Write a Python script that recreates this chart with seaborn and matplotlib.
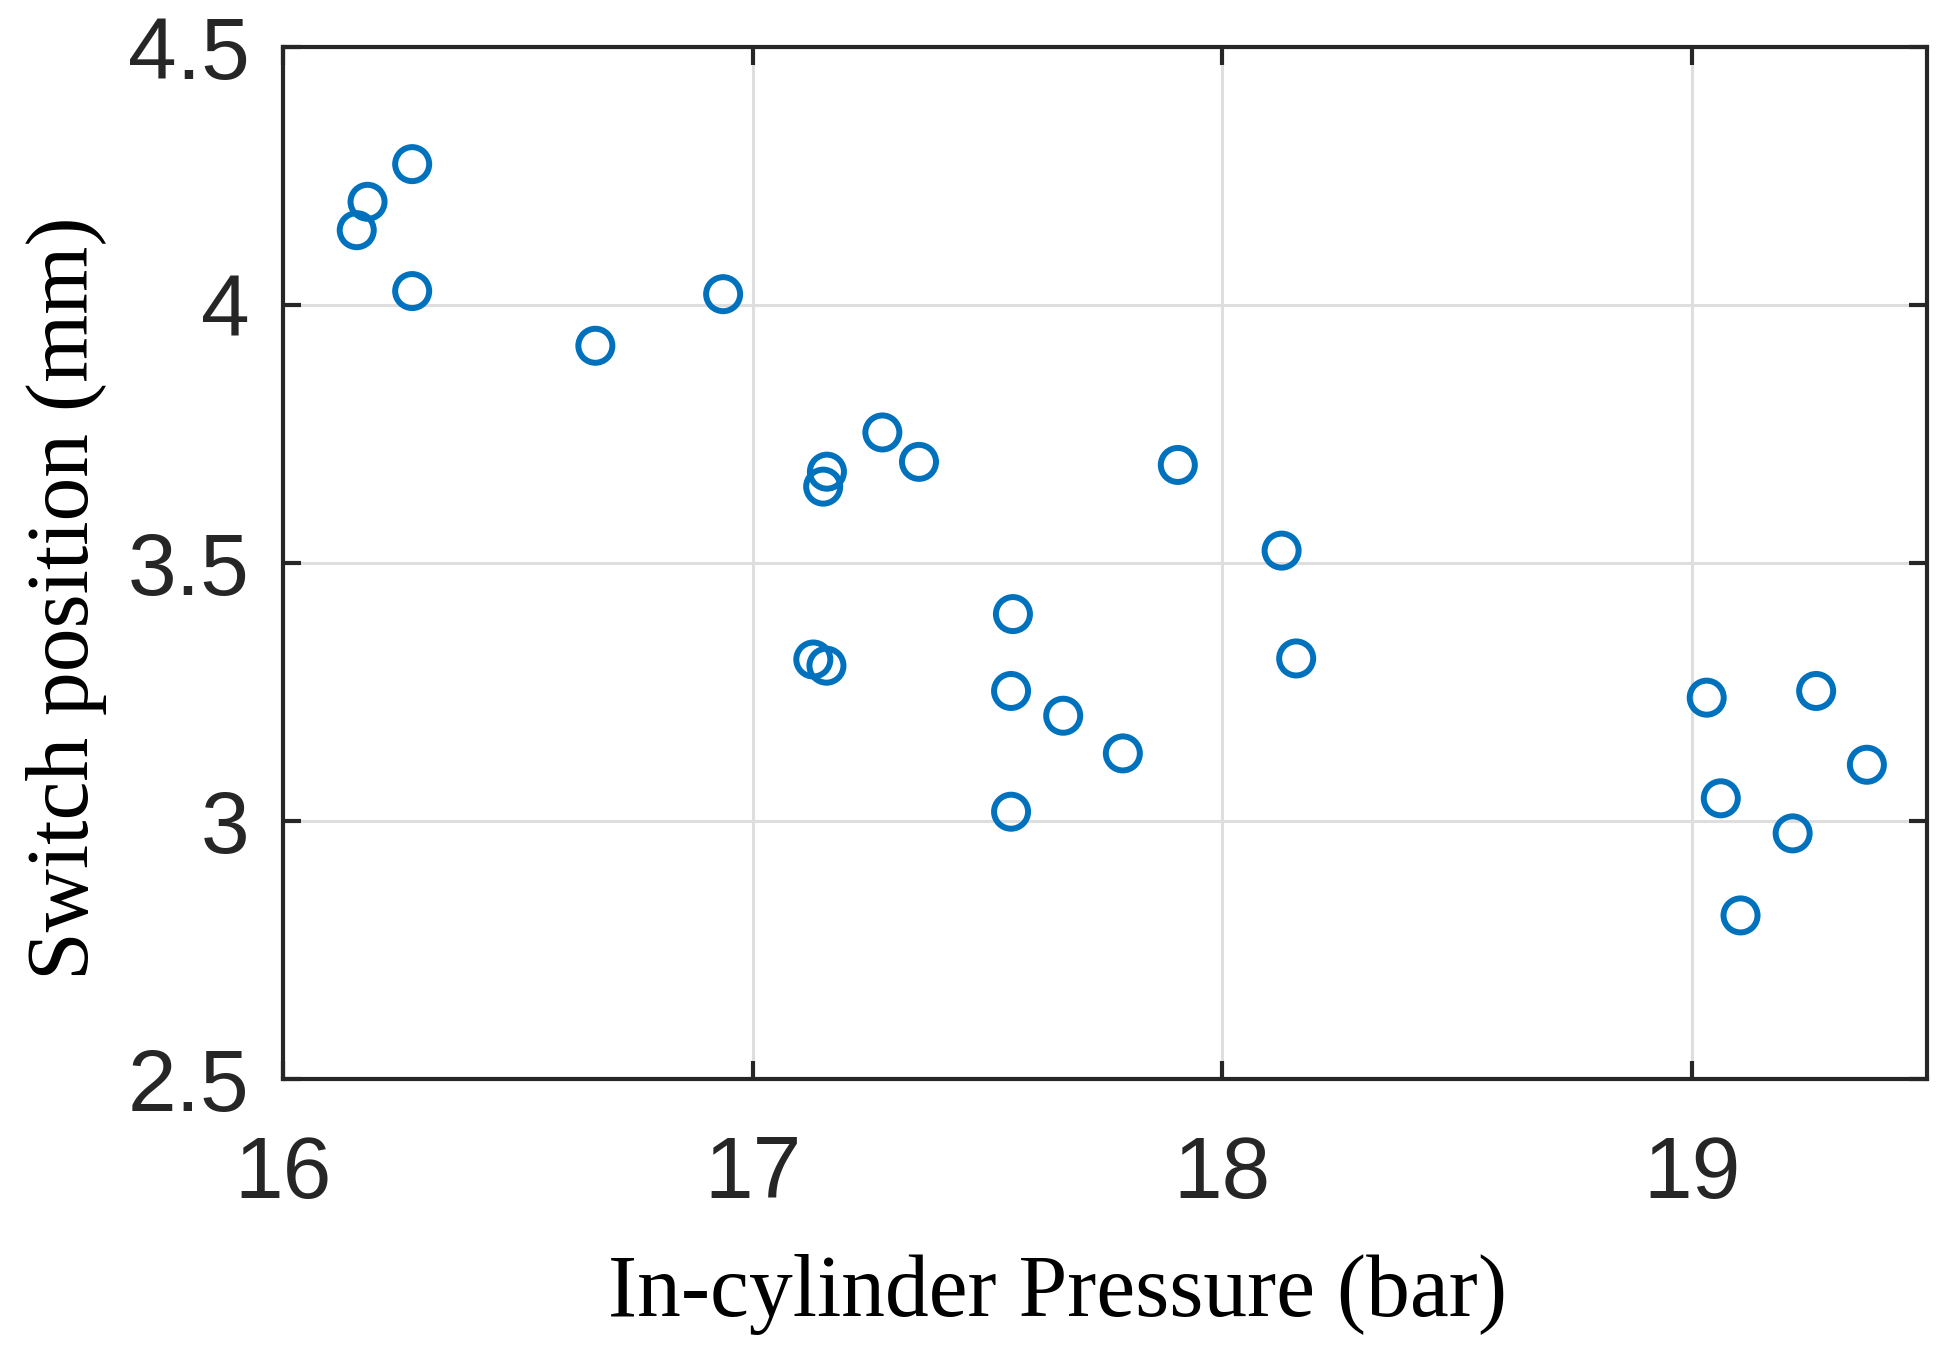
import seaborn as sns
import matplotlib.pyplot as plt
import pandas as pd

# values
pressure = [16.157, 16.180, 16.275, 16.275, 16.665, 16.937,
            17.158, 17.150, 17.276, 17.354, 17.905, 18.126,
            17.129, 17.157, 17.554, 17.550, 17.661, 17.788,
            17.550, 18.157,
            19.031, 19.264, 19.372, 19.061, 19.214, 19.103]
switch_pos = [4.145, 4.200, 4.273, 4.027, 3.921, 4.021,
              3.677, 3.648, 3.753, 3.696, 3.690, 3.524,
              3.313, 3.301, 3.401, 3.252, 3.204, 3.131,
              3.018, 3.315,
              3.239, 3.252, 3.109, 3.044, 2.976, 2.817]
x_ticks = [16, 17, 18, 19]
y_ticks = [2.5, 3, 3.5, 4, 4.5]
y_tick_labels = ["2.5", "3", "3.5", "4", "4.5"]

data = pd.DataFrame({"pressure": pressure, "switch": switch_pos})

sns.set_theme(style="white")
plt.rcParams["font.family"] = ["Liberation Sans", "DejaVu Sans"]

fig = plt.figure(figsize=(19.51, 13.48), dpi=100)
ax = fig.add_axes([283 / 1951, 1 - 1079 / 1348, 1644 / 1951, 1032 / 1348])

ax.grid(True, color="#dedede", linewidth=2.2)
ax.set_axisbelow(True)

sns.scatterplot(x="pressure", y="switch", data=data, ax=ax,
                marker="o", s=600, facecolors="none",
                edgecolors="#0072BD", linewidth=4.3, zorder=3)

ax.set_xlim(16, 19.5)
ax.set_ylim(2.5, 4.5)
ax.set_xticks(x_ticks)
ax.set_yticks(y_ticks)
ax.set_yticklabels(y_tick_labels)

for side in ["top", "bottom", "left", "right"]:
    ax.spines[side].set_visible(True)
    ax.spines[side].set_color("#262626")
    ax.spines[side].set_linewidth(3.0)

ax.tick_params(axis="both", which="major", direction="in", length=13, width=3.0,
               color="#262626", labelcolor="#262626", labelsize=63,
               top=True, right=True, bottom=True, left=True)
ax.tick_params(axis="x", pad=40)
ax.tick_params(axis="y", pad=24)

ax.set_xlabel("In-cylinder Pressure (bar)", fontsize=63,
              family=["Liberation Serif", "DejaVu Serif"], color="black")
ax.set_ylabel("Switch position (mm)", fontsize=63,
              family=["Liberation Serif", "DejaVu Serif"], color="black")
ax.xaxis.set_label_coords(0.4714, -0.2297)
ax.xaxis.label.set_va("baseline")
ax.yaxis.set_label_coords(-0.1186, 0.466)
ax.yaxis.label.set_va("baseline")

fig.savefig("out.png", dpi=100, facecolor="white")
